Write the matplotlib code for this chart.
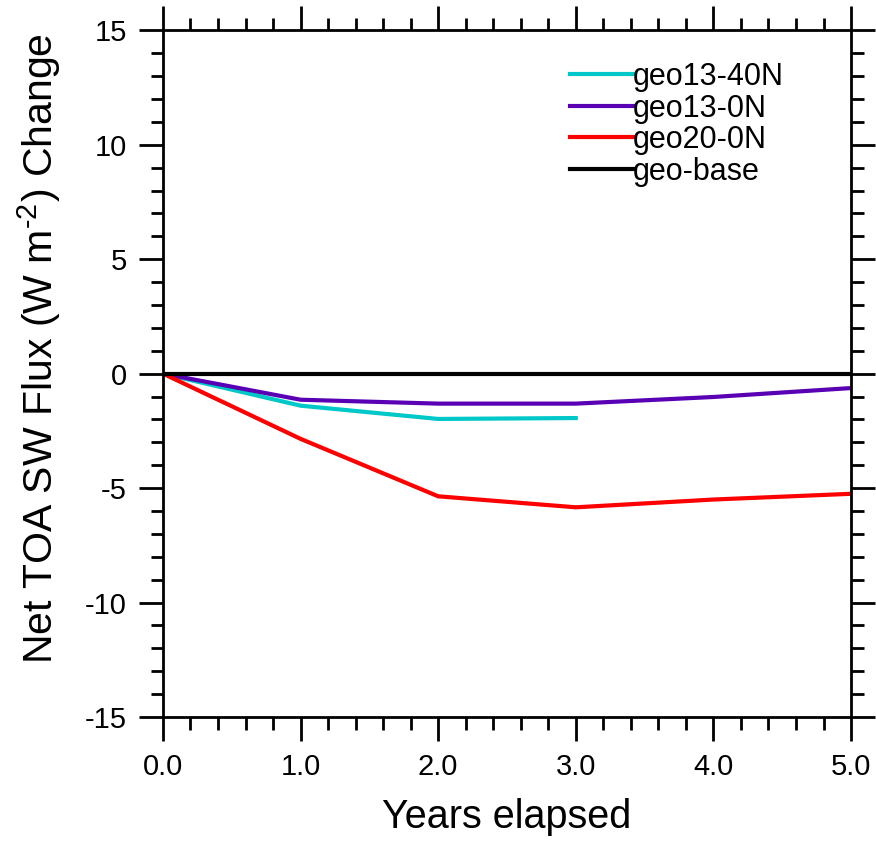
import matplotlib
matplotlib.use('Agg')
import matplotlib.pyplot as plt
from matplotlib.ticker import MultipleLocator, FormatStrFormatter

plt.rcParams['font.family'] = ['Liberation Sans', 'DejaVu Sans']
plt.rcParams['mathtext.fontset'] = 'custom'
plt.rcParams['mathtext.rm'] = 'Liberation Sans'
plt.rcParams['axes.unicode_minus'] = False

# data
years_40n = [0, 1, 2, 3]
geo13_40n = [0.0, -1.40, -1.98, -1.94]

years = [0, 1, 2, 3, 4, 5]
geo13_0n = [0.0, -1.14, -1.31, -1.31, -1.02, -0.63]
geo20_0n = [0.0, -2.85, -5.36, -5.84, -5.50, -5.25]
geo_base = [0, 0, 0, 0, 0, 0]

fig = plt.figure(figsize=(8.76, 8.42), dpi=100)
ax = fig.add_axes([0.186, 0.1485, 0.7855, 0.8155])

lw = 3
ax.plot(years_40n, geo13_40n, color='#00c8c8', lw=lw, label='geo13-40N')
ax.plot(years, geo13_0n, color='#5a00b4', lw=lw, label='geo13-0N')
ax.plot(years, geo20_0n, color='#ff0000', lw=lw, label='geo20-0N')
ax.plot(years, geo_base, color='black', lw=lw, label='geo-base')

ax.set_xlim(0, 5)
ax.set_ylim(-15, 15)
ax.xaxis.set_major_locator(MultipleLocator(1))
ax.xaxis.set_minor_locator(MultipleLocator(0.2))
ax.xaxis.set_major_formatter(FormatStrFormatter('%.1f'))
ax.yaxis.set_major_locator(MultipleLocator(5))
ax.yaxis.set_minor_locator(MultipleLocator(1))

for s in ax.spines.values():
    s.set_linewidth(2)
ax.tick_params(which='both', direction='out', top=True, right=True, width=2)
ax.tick_params(which='major', length=17, labelsize=21, pad=9)
ax.tick_params(which='minor', length=9)

ax.set_xlabel('Years elapsed', fontsize=28.5, labelpad=12)
ax.set_ylabel(r'Net TOA SW Flux (W m$^{\text{-2}}$) Change', fontsize=29.5, labelpad=12)
ax.yaxis.set_label_coords(-0.145, 0.537)

leg = ax.legend(loc='upper left', bbox_to_anchor=(0.570, 0.976), frameon=False,
                fontsize=22, handlelength=2.05, handletextpad=0.0, labelspacing=0.05,
                borderpad=0)

fig.savefig('out.png', dpi=100)
